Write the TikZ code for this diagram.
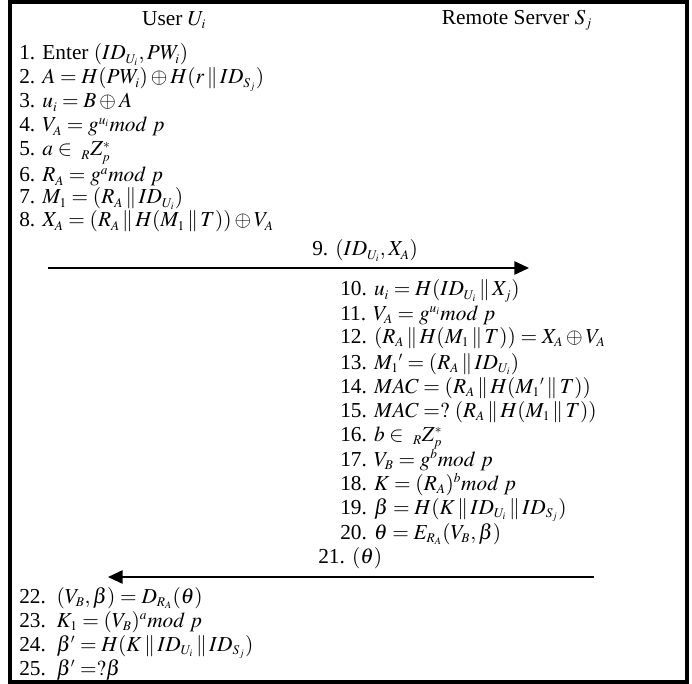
\documentclass[tikz,border=0pt]{standalone}
\usepackage{mathptmx}
\usepackage{fontspec}
\setmainfont{Liberation Serif}
\usepackage{tikz}
\usetikzlibrary{arrows.meta,positioning}
\definecolor{prink}{HTML}{000000}
\DeclareMathSizes{16}{16}{10}{7.5}
\newcommand{\pcat}{\,\|\,}
\tikzset{
  stepline/.style={anchor=base west,inner sep=0pt,text height=11pt,text depth=4pt,font=\fontsize{16}{18}\selectfont,text=prink},
  headline/.style={anchor=center,inner sep=0pt,font=\fontsize{16}{18}\selectfont,text=prink},
  msgarrow/.style={draw=prink,line width=1.3pt,-{Triangle[length=11pt,width=10pt]}}
}
\begin{document}
\begin{tikzpicture}[x=0.75pt,y=-0.75pt]
      \useasboundingbox (0,0) rectangle (692,684);
      \draw[prink,line width=3pt] (10,2) rectangle (687,682);
      \node[headline] (user) at (174,20) {User $U_i$};
      \node[headline] (server) at (517,20) {Remote Server $S_j$};
      \node[stepline] (u1) at (19,60) {1. Enter $(ID_{U_i}, PW_i)$};
      \node[stepline] (u2) at (19,84) {2. $A = H(PW_i)\oplus H(r\pcat ID_{S_j})$};
      \node[stepline] (u3) at (19,108) {3. $u_i = B\oplus A$};
      \node[stepline] (u4) at (19,132) {4. $V_A = g^{u_i} mod\; p$};
      \node[stepline] (u5) at (19,156) {5. $a \in\; {}_R Z_p^*$};
      \node[stepline] (u6) at (19,182) {6. $R_A = g^{a} mod\; p$};
      \node[stepline] (u7) at (19,204) {7. $M_1 = (R_A\pcat ID_{U_i})$};
      \node[stepline] (u8) at (19,227) {8. $X_A = (R_A\pcat H(M_1\pcat T))\oplus V_A$};
      \node[stepline] (m9) at (312,256) {9. $(ID_{U_i}, X_A)$};
      \coordinate (m9s) at (48,268);
      \coordinate (m9e) at (529,268);
      \draw[msgarrow] (m9s) -- (m9e);
      \node[stepline] (s10) at (340,296) {10. $u_i = H(ID_{U_i}\pcat X_j)$};
      \node[stepline] (s11) at (340,320) {11. $V_A = g^{u_i} mod\; p$};
      \node[stepline] (s12) at (340,343) {12. $(R_A\pcat H(M_1\pcat T)) = X_A\oplus V_A$};
      \node[stepline] (s13) at (340,369) {13. $M_1{}' = (R_A\pcat ID_{U_i})$};
      \node[stepline] (s14) at (340,393) {14. $MAC = (R_A\pcat H(M_1{}'\pcat T))$};
      \node[stepline] (s15) at (340,417) {15. $MAC =?\ (R_A\pcat H(M_1\pcat T))$};
      \node[stepline] (s16) at (340,441) {16. $b \in\; {}_R Z_p^*$};
      \node[stepline] (s17) at (340,466) {17. $V_B = g^{b} mod\; p$};
      \node[stepline] (s18) at (340,490) {18. $K = (R_A)^{b} mod\; p$};
      \node[stepline] (s19) at (340,514) {19. $\beta = H(K\pcat ID_{U_i}\pcat ID_{S_j})$};
      \node[stepline] (s20) at (340,539) {20. $\theta = E_{R_A}(V_B, \beta)$};
      \node[stepline] (m21) at (318,563) {21. $(\theta)$};
      \coordinate (m21s) at (594,577);
      \coordinate (m21e) at (108,577);
      \draw[msgarrow] (m21s) -- (m21e);
      \node[stepline] (u22) at (19,603) {22.\ \ $(V_B, \beta) = D_{R_A}(\theta)$};
      \node[stepline] (u23) at (19,627) {23.\ \ $K_1 = (V_B)^{a} mod\; p$};
      \node[stepline] (u24) at (19,651) {24.\ \ $\beta' = H(K\pcat ID_{U_i}\pcat ID_{S_j})$};
      \node[stepline] (u25) at (19,675) {25.\ \ $\beta' =?\beta$};
    \end{tikzpicture}
\end{document}
